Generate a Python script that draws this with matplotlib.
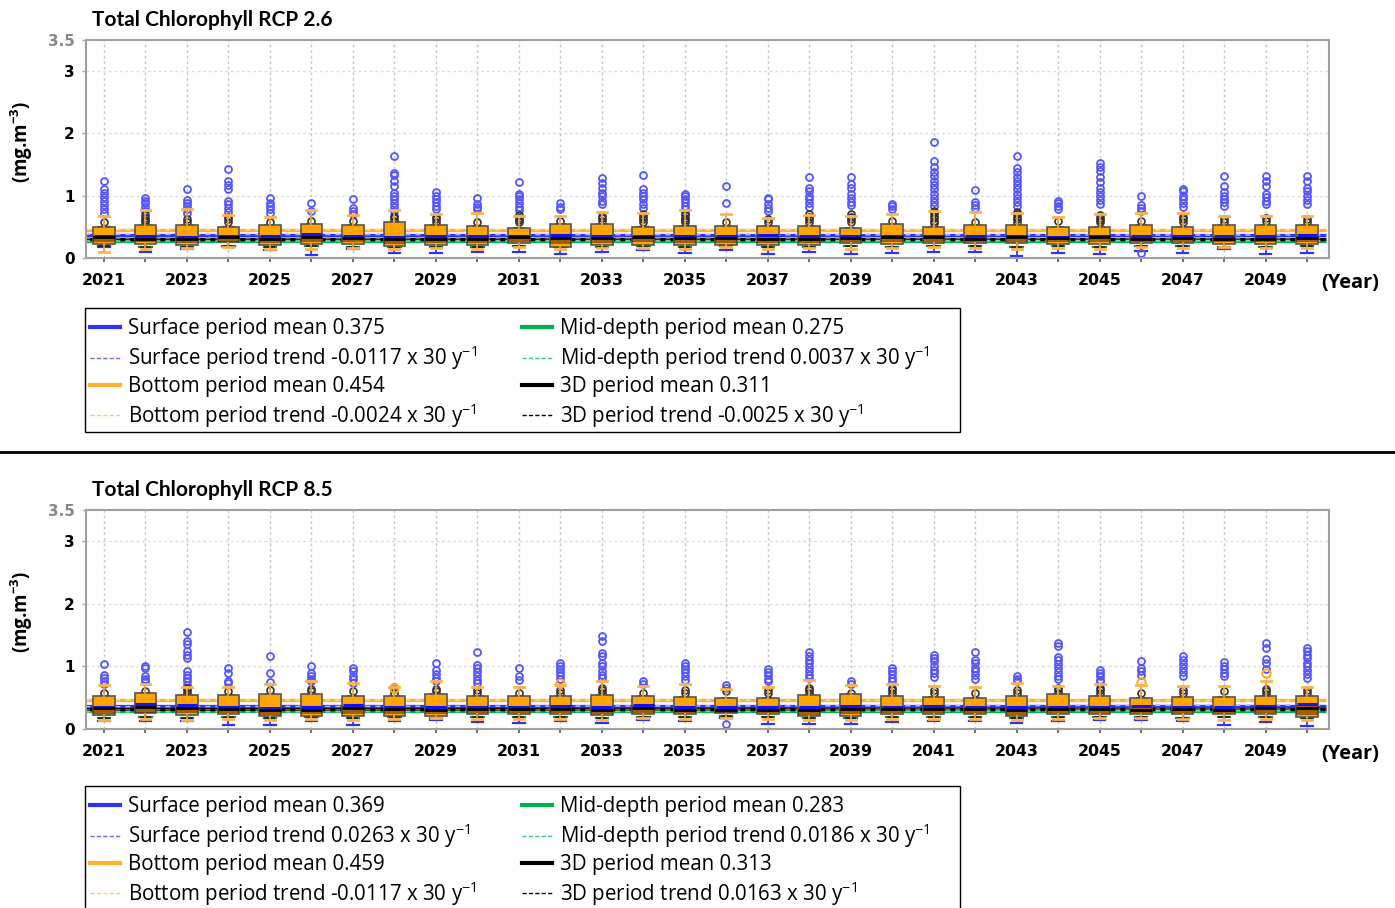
import numpy as np
import matplotlib.pyplot as plt
from matplotlib.lines import Line2D
from matplotlib.patches import Rectangle

W, H = 1395, 908

years = list(range(2021, 2051))
year_labels = [str(y) if y % 2 == 1 else '' for y in years]
ytick_vals = [0, 1, 2, 3, 3.5]
ytick_labels = ['0', '1', '2', '3', '3.5']

layer_names = ['Surface', 'Mid-depth', 'Bottom', '3D']

# ---------------- RCP 2.6 ----------------
title_26 = 'Total Chlorophyll RCP 2.6'
means_26 = [0.375, 0.275, 0.454, 0.311]
trends_26 = [-0.0117, 0.0037, -0.0024, -0.0025]

bot_lo_26 = [0.10, 0.15, 0.16, 0.18, 0.15, 0.14, 0.16, 0.15, 0.16, 0.15, 0.17, 0.14, 0.16, 0.16, 0.15,
             0.17, 0.15, 0.16, 0.15, 0.16, 0.17, 0.16, 0.15, 0.16, 0.15, 0.17, 0.16, 0.17, 0.16, 0.16]
bot_q1_26 = [0.23, 0.23, 0.21, 0.25, 0.21, 0.23, 0.23, 0.19, 0.21, 0.21, 0.24, 0.18, 0.21, 0.21, 0.21,
             0.21, 0.21, 0.21, 0.24, 0.23, 0.24, 0.24, 0.24, 0.23, 0.23, 0.24, 0.24, 0.23, 0.23, 0.23]
bot_med_26 = [0.40, 0.41, 0.40, 0.39, 0.40, 0.42, 0.40, 0.41, 0.40, 0.40, 0.38, 0.40, 0.41, 0.39, 0.40,
              0.40, 0.40, 0.40, 0.38, 0.41, 0.39, 0.40, 0.40, 0.39, 0.39, 0.40, 0.39, 0.40, 0.40, 0.40]
bot_q3_26 = [0.505, 0.53, 0.53, 0.505, 0.53, 0.55, 0.53, 0.57, 0.53, 0.52, 0.48, 0.55, 0.55, 0.505, 0.52,
             0.52, 0.52, 0.52, 0.48, 0.55, 0.495, 0.53, 0.53, 0.50, 0.495, 0.53, 0.495, 0.53, 0.53, 0.53]
bot_hi_26 = [0.68, 0.77, 0.785, 0.69, 0.66, 0.77, 0.69, 0.77, 0.71, 0.72, 0.67, 0.67, 0.74, 0.72, 0.77,
             0.71, 0.64, 0.69, 0.68, 0.71, 0.75, 0.74, 0.72, 0.66, 0.70, 0.72, 0.72, 0.67, 0.68, 0.67]

sur_lo_26 = [0.17, 0.10, 0.145, 0.17, 0.13, 0.05, 0.15, 0.08, 0.075, 0.10, 0.10, 0.065, 0.10, 0.13, 0.075,
             0.13, 0.06, 0.10, 0.06, 0.075, 0.10, 0.10, 0.04, 0.075, 0.06, 0.12, 0.075, 0.14, 0.06, 0.075]
sur_q1_26 = [0.27, 0.26, 0.25, 0.27, 0.26, 0.27, 0.26, 0.25, 0.26, 0.26, 0.27, 0.25, 0.26, 0.26, 0.26,
             0.26, 0.26, 0.26, 0.27, 0.26, 0.27, 0.26, 0.26, 0.26, 0.26, 0.27, 0.26, 0.26, 0.26, 0.26]
sur_med_26 = [0.36, 0.35, 0.34, 0.35, 0.35, 0.38, 0.36, 0.34, 0.35, 0.36, 0.35, 0.37, 0.35, 0.36, 0.35,
              0.36, 0.37, 0.36, 0.35, 0.36, 0.35, 0.36, 0.35, 0.34, 0.35, 0.36, 0.35, 0.36, 0.35, 0.37]
sur_q3_26 = [0.45, 0.46, 0.45, 0.45, 0.46, 0.47, 0.45, 0.48, 0.46, 0.45, 0.43, 0.47, 0.47, 0.45, 0.46,
             0.45, 0.45, 0.46, 0.43, 0.47, 0.44, 0.46, 0.46, 0.45, 0.44, 0.46, 0.44, 0.46, 0.46, 0.46]
sur_hi_26 = [0.49, 0.50, 0.50, 0.49, 0.50, 0.52, 0.50, 0.53, 0.50, 0.49, 0.46, 0.52, 0.52, 0.49, 0.50,
             0.49, 0.49, 0.50, 0.46, 0.52, 0.48, 0.50, 0.50, 0.48, 0.48, 0.50, 0.48, 0.50, 0.50, 0.50]
sur_fliers_26 = [
    [1.24, 1.10, 1.05, 0.98, 0.92, 0.85, 0.78, 0.72],
    [0.96, 0.92, 0.88, 0.82, 0.76],
    [1.11, 0.93, 0.89, 0.84, 0.78, 0.72],
    [1.43, 1.23, 1.17, 1.10, 0.92, 0.87, 0.80, 0.74],
    [0.96, 0.88, 0.84, 0.79, 0.73],
    [0.88, 0.76],
    [0.94, 0.80, 0.76, 0.71],
    [1.63, 1.37, 1.33, 1.24, 1.15, 1.05, 1.00, 0.95, 0.88, 0.82, 0.76],
    [1.06, 1.00, 0.95, 0.90, 0.84, 0.78],
    [0.96, 0.86, 0.82, 0.78],
    [1.22, 1.03, 0.99, 0.94, 0.88, 0.82, 0.77],
    [0.88, 0.82, 0.78],
    [1.28, 1.20, 1.12, 1.04, 0.99, 0.92, 0.86],
    [1.33, 1.10, 1.05, 0.99, 0.94, 0.87, 0.80],
    [1.03, 0.99, 0.95, 0.90, 0.84, 0.79],
    [1.16, 0.88],
    [0.97, 0.94, 0.86, 0.80, 0.76],
    [1.30, 1.13, 1.07, 1.00, 0.95, 0.88, 0.82],
    [1.30, 1.19, 1.12, 1.02, 0.96, 0.90, 0.85],
    [0.86, 0.83, 0.78],
    [1.86, 1.56, 1.46, 1.38, 1.31, 1.24, 1.17, 1.10, 1.03, 0.96, 0.90, 0.84],
    [1.09, 0.90, 0.85, 0.80],
    [1.63, 1.45, 1.38, 1.30, 1.24, 1.17, 1.10, 1.03, 0.96, 0.90, 0.84],
    [0.92, 0.88, 0.83, 0.78],
    [1.52, 1.46, 1.40, 1.30, 1.22, 1.12, 1.06, 1.00, 0.93, 0.86],
    [1.00, 0.85, 0.80, 0.76, 0.085],
    [1.10, 1.08, 1.00, 0.94, 0.88, 0.82],
    [1.31, 1.16, 1.06, 1.00, 0.95, 0.90, 0.84],
    [1.31, 1.24, 1.15, 1.03, 0.98, 0.92, 0.86],
    [1.31, 1.24, 1.13, 1.07, 0.99, 0.93, 0.86],
]

mid_lo_26 = [0.19, 0.18, 0.17, 0.20, 0.18, 0.19, 0.18, 0.17, 0.18, 0.18, 0.20, 0.17, 0.18, 0.19, 0.18,
             0.19, 0.18, 0.18, 0.19, 0.18, 0.19, 0.19, 0.18, 0.19, 0.18, 0.20, 0.19, 0.18, 0.18, 0.19]
mid_q1_26 = [0.24, 0.23, 0.23, 0.25, 0.23, 0.24, 0.23, 0.22, 0.23, 0.23, 0.25, 0.22, 0.23, 0.24, 0.23,
             0.24, 0.23, 0.23, 0.24, 0.23, 0.24, 0.24, 0.24, 0.24, 0.23, 0.25, 0.24, 0.23, 0.23, 0.24]
mid_q3_26 = [0.31, 0.31, 0.30, 0.31, 0.31, 0.32, 0.31, 0.31, 0.31, 0.31, 0.30, 0.31, 0.31, 0.31, 0.31,
             0.31, 0.31, 0.31, 0.30, 0.31, 0.30, 0.31, 0.31, 0.30, 0.30, 0.31, 0.30, 0.31, 0.31, 0.31]

d3_q1_26 = [0.25, 0.25, 0.24, 0.26, 0.24, 0.25, 0.25, 0.23, 0.24, 0.24, 0.26, 0.23, 0.24, 0.25, 0.24,
            0.24, 0.24, 0.24, 0.26, 0.25, 0.26, 0.25, 0.25, 0.25, 0.25, 0.26, 0.26, 0.25, 0.25, 0.25]
d3_med_26 = [0.33, 0.31, 0.31, 0.34, 0.31, 0.33, 0.32, 0.30, 0.31, 0.31, 0.33, 0.32, 0.32, 0.33, 0.32,
             0.32, 0.31, 0.31, 0.32, 0.33, 0.33, 0.31, 0.33, 0.32, 0.33, 0.30, 0.32, 0.31, 0.31, 0.32]
d3_q3_26 = [0.36, 0.35, 0.35, 0.37, 0.35, 0.37, 0.36, 0.35, 0.35, 0.35, 0.36, 0.36, 0.36, 0.36, 0.36,
            0.36, 0.35, 0.35, 0.36, 0.37, 0.36, 0.35, 0.37, 0.36, 0.36, 0.35, 0.36, 0.35, 0.35, 0.36]
d3_fliers_26 = [
    [0.57], [0.57, 0.61, 0.65, 0.69], [0.58, 0.62], [0.58, 0.62, 0.66], [0.58], [0.60], [0.59],
    [0.60, 0.64, 0.68], [0.58, 0.62, 0.66], [0.58], [0.57, 0.61, 0.65, 0.69], [0.60],
    [0.60, 0.64, 0.68], [0.58, 0.62, 0.66, 0.70], [0.57, 0.61, 0.65, 0.69, 0.73], [0.58],
    [0.58, 0.62], [0.58, 0.62, 0.66, 0.70], [0.58, 0.62, 0.66, 0.70], [0.60],
    [0.56, 0.60, 0.64, 0.68, 0.72, 0.76], [0.58], [0.58, 0.62, 0.66, 0.70, 0.74], [0.60],
    [0.57, 0.61, 0.65, 0.69], [0.60], [0.58, 0.62, 0.66], [0.58, 0.62], [0.60, 0.64], [0.58, 0.62],
]

# ---------------- RCP 8.5 ----------------
title_85 = 'Total Chlorophyll RCP 8.5'
means_85 = [0.369, 0.283, 0.459, 0.313]
trends_85 = [0.0263, 0.0186, -0.0117, 0.0163]

bot_lo_85 = [0.14, 0.16, 0.15, 0.16, 0.15, 0.16, 0.15, 0.16, 0.17, 0.16, 0.16, 0.16, 0.15, 0.17, 0.16,
             0.18, 0.16, 0.15, 0.15, 0.16, 0.16, 0.16, 0.15, 0.16, 0.17, 0.17, 0.16, 0.15, 0.16, 0.14]
bot_q1_85 = [0.22, 0.25, 0.22, 0.24, 0.21, 0.21, 0.21, 0.21, 0.21, 0.24, 0.24, 0.24, 0.22, 0.24, 0.24,
             0.25, 0.24, 0.21, 0.21, 0.24, 0.24, 0.24, 0.21, 0.24, 0.24, 0.24, 0.24, 0.24, 0.24, 0.19]
bot_med_85 = [0.40, 0.42, 0.41, 0.40, 0.40, 0.41, 0.39, 0.40, 0.41, 0.40, 0.39, 0.39, 0.40, 0.40, 0.39,
              0.39, 0.39, 0.40, 0.41, 0.40, 0.39, 0.38, 0.40, 0.41, 0.40, 0.39, 0.39, 0.39, 0.40, 0.40]
bot_q3_85 = [0.53, 0.57, 0.545, 0.54, 0.56, 0.56, 0.535, 0.535, 0.56, 0.535, 0.52, 0.52, 0.545, 0.52, 0.51,
             0.50, 0.50, 0.54, 0.56, 0.53, 0.51, 0.50, 0.535, 0.56, 0.535, 0.50, 0.51, 0.51, 0.535, 0.535]
bot_hi_85 = [0.70, 0.72, 0.67, 0.67, 0.72, 0.77, 0.74, 0.67, 0.77, 0.67, 0.67, 0.70, 0.77, 0.69, 0.72,
             0.64, 0.67, 0.78, 0.70, 0.72, 0.68, 0.67, 0.74, 0.68, 0.72, 0.70, 0.68, 0.68, 0.77, 0.67]
bot_fliers_85 = [[], [], [], [], [], [], [], [0.66], [], [], [], [0.73], [], [], [],
                 [], [], [], [], [], [], [], [], [], [], [0.75], [], [], [0.89], []]

sur_lo_85 = [0.12, 0.12, 0.12, 0.064, 0.064, 0.12, 0.064, 0.12, 0.14, 0.11, 0.09, 0.12, 0.09, 0.14, 0.12,
             0.18, 0.075, 0.075, 0.075, 0.11, 0.12, 0.12, 0.09, 0.12, 0.14, 0.14, 0.12, 0.064, 0.11, 0.05]
sur_q1_85 = [0.26, 0.28, 0.27, 0.26, 0.25, 0.26, 0.26, 0.26, 0.26, 0.26, 0.26, 0.26, 0.26, 0.27, 0.26,
             0.27, 0.26, 0.26, 0.27, 0.26, 0.26, 0.26, 0.26, 0.26, 0.27, 0.27, 0.26, 0.26, 0.26, 0.24]
sur_med_85 = [0.35, 0.40, 0.39, 0.35, 0.34, 0.35, 0.38, 0.35, 0.35, 0.35, 0.35, 0.36, 0.35, 0.38, 0.35,
              0.35, 0.35, 0.35, 0.36, 0.35, 0.36, 0.35, 0.35, 0.35, 0.35, 0.36, 0.35, 0.35, 0.36, 0.40]
sur_q3_85 = [0.45, 0.49, 0.48, 0.45, 0.45, 0.46, 0.46, 0.45, 0.46, 0.45, 0.44, 0.45, 0.46, 0.46, 0.44,
             0.43, 0.43, 0.45, 0.47, 0.45, 0.44, 0.43, 0.45, 0.46, 0.45, 0.43, 0.44, 0.44, 0.45, 0.46]
sur_hi_85 = [0.50, 0.54, 0.52, 0.51, 0.52, 0.52, 0.50, 0.50, 0.52, 0.50, 0.49, 0.49, 0.51, 0.49, 0.48,
             0.47, 0.47, 0.51, 0.52, 0.50, 0.48, 0.47, 0.50, 0.52, 0.50, 0.47, 0.48, 0.48, 0.50, 0.50]
sur_fliers_85 = [
    [1.035, 0.86, 0.82, 0.77, 0.72],
    [1.00, 0.97, 0.84, 0.80, 0.76],
    [1.55, 1.41, 1.36, 1.25, 1.19, 1.13, 0.92, 0.86, 0.81, 0.76, 0.70],
    [0.98, 0.89, 0.77, 0.73],
    [1.17, 0.89, 0.75],
    [1.01, 0.89, 0.85, 0.80, 0.76],
    [0.97, 0.92, 0.85, 0.80, 0.74],
    [0.67, 0.645],
    [1.06, 0.94, 0.88, 0.82, 0.77],
    [1.23, 1.03, 0.97, 0.91, 0.85, 0.79, 0.74],
    [0.97, 0.84, 0.79],
    [1.06, 1.01, 0.96, 0.91, 0.86, 0.80],
    [1.49, 1.41, 1.21, 1.16, 1.06, 1.00, 0.93, 0.87, 0.82],
    [0.77, 0.72],
    [1.06, 1.01, 0.96, 0.91, 0.85, 0.79],
    [0.70, 0.66, 0.075],
    [0.96, 0.91, 0.86, 0.80, 0.76],
    [1.23, 1.17, 1.11, 1.05, 0.99, 0.93, 0.87, 0.81],
    [0.77, 0.72],
    [0.97, 0.92, 0.88, 0.82, 0.77],
    [1.19, 1.13, 1.08, 1.01, 0.95, 0.89, 0.83],
    [1.23, 1.11, 1.05, 0.98, 0.92, 0.86, 0.80],
    [0.85, 0.80, 0.76],
    [1.37, 1.32, 1.15, 1.10, 1.04, 0.97, 0.91, 0.85, 0.80],
    [0.94, 0.89, 0.84, 0.79, 0.76],
    [1.08, 0.97, 0.92, 0.86],
    [1.16, 1.10, 1.04, 0.97, 0.91, 0.85],
    [1.07, 1.01, 0.96, 0.90, 0.85],
    [1.37, 1.30, 1.12, 1.06, 0.96],
    [1.30, 1.25, 1.19, 1.13, 1.06, 1.00, 0.94, 0.88, 0.82],
]

mid_lo_85 = [0.18, 0.19, 0.17, 0.19, 0.18, 0.19, 0.18, 0.19, 0.18, 0.19, 0.19, 0.19, 0.18, 0.19, 0.19,
             0.20, 0.19, 0.18, 0.18, 0.19, 0.19, 0.19, 0.18, 0.19, 0.19, 0.19, 0.18, 0.19, 0.19, 0.17]
mid_q1_85 = [0.23, 0.25, 0.23, 0.24, 0.23, 0.23, 0.23, 0.24, 0.23, 0.24, 0.24, 0.24, 0.23, 0.24, 0.24,
             0.25, 0.24, 0.23, 0.23, 0.24, 0.24, 0.24, 0.23, 0.24, 0.24, 0.24, 0.24, 0.24, 0.24, 0.22]
mid_q3_85 = [0.31, 0.33, 0.32, 0.31, 0.31, 0.31, 0.31, 0.31, 0.31, 0.31, 0.31, 0.31, 0.31, 0.32, 0.31,
             0.31, 0.31, 0.31, 0.32, 0.31, 0.31, 0.31, 0.31, 0.32, 0.31, 0.31, 0.31, 0.31, 0.32, 0.32]

d3_q1_85 = [0.24, 0.26, 0.25, 0.25, 0.23, 0.24, 0.24, 0.24, 0.24, 0.25, 0.25, 0.25, 0.24, 0.25, 0.25,
            0.26, 0.25, 0.23, 0.24, 0.25, 0.25, 0.25, 0.23, 0.25, 0.25, 0.25, 0.25, 0.25, 0.25, 0.22]
d3_med_85 = [0.33, 0.35, 0.34, 0.32, 0.31, 0.31, 0.33, 0.32, 0.31, 0.32, 0.32, 0.32, 0.31, 0.34, 0.31,
             0.30, 0.31, 0.31, 0.32, 0.32, 0.32, 0.32, 0.31, 0.32, 0.32, 0.31, 0.32, 0.31, 0.33, 0.33]
d3_q3_85 = [0.36, 0.38, 0.37, 0.36, 0.35, 0.35, 0.36, 0.35, 0.35, 0.36, 0.36, 0.36, 0.35, 0.37, 0.35,
            0.34, 0.35, 0.35, 0.36, 0.36, 0.36, 0.35, 0.35, 0.36, 0.36, 0.35, 0.36, 0.35, 0.37, 0.38]
d3_fliers_85 = [
    [0.58], [0.60], [0.58, 0.62, 0.66], [0.60], [0.62], [0.60, 0.64], [0.60], [0.58],
    [0.60, 0.64], [0.58, 0.62], [0.58], [0.58, 0.62], [0.58, 0.62, 0.66], [0.58], [0.58, 0.62],
    [0.60], [0.58, 0.62], [0.58, 0.62, 0.66], [0.58], [0.58, 0.62, 0.66], [0.58, 0.62],
    [0.58], [0.58, 0.62], [0.58, 0.62, 0.66], [0.58, 0.62, 0.66], [0.58], [0.58, 0.62],
    [0.60], [0.56, 0.60, 0.64], [0.58, 0.62],
]

# ---------------- styling ----------------
plt.rcParams['font.family'] = ['DejaVu Sans']
plt.rcParams['mathtext.fontset'] = 'custom'
plt.rcParams['mathtext.rm'] = 'Open Sans'
plt.rcParams['mathtext.bf'] = 'Open Sans:bold'

mean_colors = ['#3030ff', '#00b050', '#ffb030', '#000000']
trend_colors = ['#b0b0ff', '#70d898', '#ffd890', '#666666']
legend_trend_colors = ['#6a6aff', '#40c878', '#ffc860', '#000000']


def make_stats(lo, q1, med, q3, hi, fliers=None):
    out = []
    for i in range(len(lo)):
        out.append(dict(whislo=lo[i], q1=q1[i], med=med[i], q3=q3[i], whishi=hi[i],
                        fliers=fliers[i] if fliers is not None else []))
    return out


def draw_panel(ax, means, trends, bot, sur, mid, d3):
    x0, x1 = years[0], years[-1]
    for m, t, c, tc in zip(means, trends, mean_colors, trend_colors):
        ax.plot([x0 - 0.45, x1 + 0.45], [m, m], color=c, lw=2.4, zorder=1.5, solid_capstyle='butt')
        ax.plot([x0 - 0.45, x1 + 0.45], [m - t / 2, m + t / 2], color=tc, lw=1.2,
                linestyle=(0, (3, 3)), zorder=1.6)

    # mid-depth (green) whiskers
    ax.bxp(make_stats(*mid), positions=years, widths=0.5, showbox=False, showfliers=False,
           manage_ticks=False, zorder=2, capwidths=0.3,
           whiskerprops=dict(color='#1e8a3c', lw=1.2), capprops=dict(color='#1e8a3c', lw=1.6),
           medianprops=dict(lw=0))
    # surface (blue)
    ax.bxp(make_stats(*sur), positions=years, widths=0.5, showbox=False, manage_ticks=False,
           zorder=2.2, capwidths=0.28,
           whiskerprops=dict(color='#3030ff', lw=1.2), capprops=dict(color='#3030ff', lw=1.6),
           medianprops=dict(color='#1010ff', lw=2.2, zorder=5.5),
           flierprops=dict(marker='o', markerfacecolor='none', markeredgecolor='#5555ff',
                           markersize=5, markeredgewidth=1.3, zorder=2.4))
    # bottom (orange)
    ax.bxp(make_stats(*bot), positions=years, widths=0.52, patch_artist=True, manage_ticks=False,
           zorder=3, capwidths=0.24,
           boxprops=dict(facecolor='#ffa500', edgecolor='#555555', lw=1.2),
           whiskerprops=dict(color='#e8a040', lw=1.3), capprops=dict(color='#ffb347', lw=2.0, zorder=3.3),
           medianprops=dict(lw=0),
           flierprops=dict(marker='o', markerfacecolor='none', markeredgecolor='#ffa520',
                           markersize=6, markeredgewidth=1.4, zorder=3.2))
    # 3D (black), drawn semi-transparent on top of the orange box
    ax.bxp(make_stats(*d3), positions=years, widths=0.52, patch_artist=True, manage_ticks=False,
           zorder=4, capwidths=0.22,
           boxprops=dict(facecolor=(0.25, 0.1, 0.0, 0.5), edgecolor='none', lw=0),
           whiskerprops=dict(color='#222222', lw=1.0, zorder=2.6),
           capprops=dict(color='#222222', lw=1.2, zorder=2.6),
           medianprops=dict(color='black', lw=2.0, zorder=5.6),
           flierprops=dict(marker='o', markerfacecolor='none', markeredgecolor='#333333',
                           markersize=5, markeredgewidth=1.2, zorder=2.7))

    ax.set_xlim(2020.566, 2050.53)
    ax.set_ylim(0, 3.5)
    ax.set_xticks(years)
    ax.set_xticklabels(year_labels, fontsize=11.3, fontweight='bold')
    ax.set_yticks(ytick_vals)
    ax.set_yticklabels(ytick_labels, fontsize=11, fontweight='bold')
    ax.get_yticklabels()[-1].set_color('#888888')
    ax.tick_params(axis='x', length=3, width=1.2, color='#555555', pad=8)
    ax.tick_params(axis='y', length=3, width=1, color='#aaaaaa', pad=5)
    for s in ax.spines.values():
        s.set_color('#a0a0a0')
        s.set_linewidth(1.5)
    for y in ytick_vals[1:4]:
        ax.axhline(y, color='#dddddd', lw=1, linestyle=(0, (2, 2)), zorder=0.5)
    for yr in years:
        ax.axvline(yr, color='#c8c8c8', lw=1, linestyle=(0, (2, 2)), zorder=0.5)


def legend_handles(means, trends):
    # ncol=2 fills column-wise: surface/bottom first, then mid-depth/3D
    handles, labels = [], []
    for i in [0, 2, 1, 3]:
        handles.append(Line2D([], [], color=mean_colors[i], lw=3))
        labels.append(f'{layer_names[i]} period mean {means[i]:.3f}')
        handles.append(Line2D([], [], color=legend_trend_colors[i], lw=1, linestyle=(0, (3, 1.6))))
        labels.append(f'{layer_names[i]} period trend {trends[i]:.4f}' + r' x 30 y$\mathregular{^{-1}}$')
    return handles, labels


fig = plt.figure(figsize=(W / 100, H / 100), dpi=100)

# (title, means, trends, bottom, surface, mid, 3D, axes top px, axes bottom px, legend top px)
panels = [
    (title_26, means_26, trends_26,
     (bot_lo_26, bot_q1_26, bot_med_26, bot_q3_26, bot_hi_26),
     (sur_lo_26, sur_q1_26, sur_med_26, sur_q3_26, sur_hi_26, sur_fliers_26),
     (mid_lo_26, mid_q1_26, mid_q1_26, mid_q3_26, mid_q3_26),
     (mid_lo_26, d3_q1_26, d3_med_26, d3_q3_26, bot_q3_26, d3_fliers_26),
     40, 258, 308),
    (title_85, means_85, trends_85,
     (bot_lo_85, bot_q1_85, bot_med_85, bot_q3_85, bot_hi_85, bot_fliers_85),
     (sur_lo_85, sur_q1_85, sur_med_85, sur_q3_85, sur_hi_85, sur_fliers_85),
     (mid_lo_85, mid_q1_85, mid_q1_85, mid_q3_85, mid_q3_85),
     (mid_lo_85, d3_q1_85, d3_med_85, d3_q3_85, bot_q3_85, d3_fliers_85),
     510, 729, 786),
]

for title, means, trends, bot, sur, mid, d3, top_px, bot_px, leg_top in panels:
    ax = fig.add_axes([86 / W, 1 - bot_px / H, 1243 / W, (bot_px - top_px) / H])
    draw_panel(ax, means, trends, bot, sur, mid, d3)
    fig.text(92 / W, 1 - (top_px - 20) / H, title, fontsize=15, fontweight='bold',
             family='Lato', ha='left', va='center')
    fig.text(22 / W, 1 - (top_px + 102) / H, r'(mg.m$\mathbf{^{-3}}$)', rotation=90,
             fontsize=13.5, fontweight='bold', family='Open Sans', ha='center', va='center')
    fig.text(1350 / W, 1 - (bot_px + 25) / H, '(Year)', fontsize=14.3, fontweight='bold',
             family='Open Sans', ha='center', va='center')
    h, l = legend_handles(means, trends)
    fig.legend(h, l, loc='upper left', ncol=2,
               bbox_to_anchor=(90 / W, 1 - (leg_top + 10) / H),
               prop=dict(family='Open Sans', size=14.8), handlelength=1.45, handletextpad=0.4,
               labelspacing=0.2, borderpad=0.0, columnspacing=2.2, frameon=False,
               borderaxespad=0)
    fig.add_artist(Rectangle((85 / W, 1 - (leg_top + 124) / H), 875 / W, 124 / H,
                             transform=fig.transFigure, fill=False, edgecolor='black', lw=1.0))

fig.add_artist(Line2D([0, 1], [1 - 452 / H, 1 - 452 / H], transform=fig.transFigure,
                      color='black', lw=2))

fig.savefig('out.png', dpi=100)
